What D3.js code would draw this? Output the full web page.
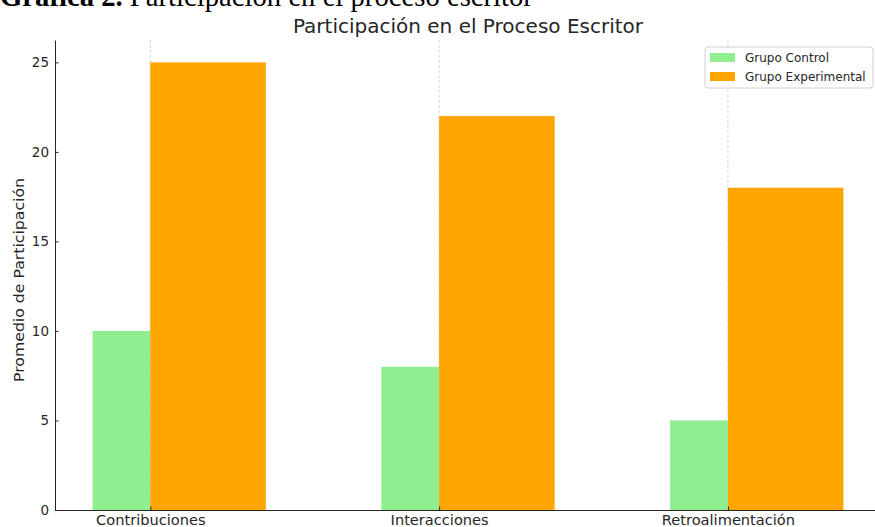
<!DOCTYPE html>
<html><head><meta charset="utf-8">
<script src="https://cdn.jsdelivr.net/npm/d3@7"></script>
<style>body{margin:0;background:#fff;overflow:hidden} svg text{font-family:"DejaVu Sans",sans-serif}</style>
</head><body>
<script>
const categories = ["Contribuciones", "Interacciones", "Retroalimentación"];
const controlValues = [10, 8, 5];
const experimentalValues = [25, 22, 18];
const seriesNames = ["Grupo Control", "Grupo Experimental"];
const seriesColors = ["#90EE90", "#FFA500"];
const yTicks = [0, 5, 10, 15, 20, 25];

(function () {
const W = 875, H = 527;
const svg = d3.select("body").append("svg").attr("width", W).attr("height", H);

const mLeft = 55, mRight = 881, mTop = 40, mBottom = 510;
const x = d3.scaleLinear().domain([-0.33, 2.53]).range([mLeft, mRight]);
const y = d3.scaleLinear().domain([0, 26.25]).range([mBottom, mTop]);

// heading above chart
svg.append("text").attr("x", 0).attr("y", 6)
  .style("font-family", "'Liberation Serif', 'Times New Roman', serif")
  .attr("font-size", 28.7).attr("fill", "#000")
  .call(t => { t.append("tspan").attr("font-weight", "bold").text("Gráfica 2. ");
               t.append("tspan").text("Participación en el proceso escritor"); });

// gridlines
svg.append("g").selectAll("line").data(categories).join("line")
  .attr("x1", (d, i) => x(i)).attr("x2", (d, i) => x(i))
  .attr("y1", mTop).attr("y2", mBottom)
  .attr("stroke", "#cccccc").attr("stroke-width", 0.8).attr("stroke-dasharray", "3,2");

// bars
svg.append("g").selectAll("rect").data(controlValues).join("rect")
  .attr("x", (d, i) => x(i - 0.2)).attr("width", x(0) - x(-0.2))
  .attr("y", d => y(d)).attr("height", d => y(0) - y(d)).attr("fill", seriesColors[0]);
svg.append("g").selectAll("rect").data(experimentalValues).join("rect")
  .attr("x", (d, i) => x(i)).attr("width", x(0.4) - x(0))
  .attr("y", d => y(d)).attr("height", d => y(0) - y(d)).attr("fill", seriesColors[1]);

// axes
const yAxis = d3.axisLeft(y).tickValues(yTicks).tickSizeInner(-3.5).tickSizeOuter(0).tickPadding(6);
const gy = svg.append("g").attr("transform", `translate(${mLeft},0)`).call(yAxis);
gy.select(".domain").attr("stroke", "#262626").attr("stroke-width", 1);
gy.selectAll(".tick line").attr("stroke", "#262626");
gy.selectAll("text").attr("font-size", 13.5).attr("fill", "#262626");

const xAxis = d3.axisBottom(x).tickValues([0, 1, 2]).tickFormat(i => categories[i])
  .tickSizeInner(-3.5).tickSizeOuter(0).tickPadding(5);
const gx = svg.append("g").attr("transform", `translate(0,${mBottom})`).call(xAxis);
gx.select(".domain").attr("stroke", "#262626").attr("stroke-width", 1);
gx.selectAll(".tick line").attr("stroke", "#262626");
gx.selectAll("text").attr("font-size", 14.6).attr("fill", "#262626");

// y label
svg.append("text").attr("transform", `translate(24,${(178 + 382) / 2}) rotate(-90)`)
  .attr("text-anchor", "middle").attr("font-size", 14).attr("fill", "#262626")
  .attr("textLength", 204).attr("lengthAdjust", "spacingAndGlyphs")
  .text("Promedio de Participación");

// title
svg.append("text").attr("x", (mLeft + mRight) / 2).attr("y", 33).attr("text-anchor", "middle")
  .attr("font-size", 20).attr("fill", "#262626").text("Participación en el Proceso Escritor");

// legend
const lg = svg.append("g");
lg.append("rect").attr("x", 705).attr("y", 47).attr("width", 168).attr("height", 41).attr("rx", 3)
  .attr("fill", "#fff").attr("fill-opacity", 0.8).attr("stroke", "#d0d0d0");
seriesNames.forEach((n, i) => {
  lg.append("rect").attr("x", 710).attr("y", 53 + i * 19).attr("width", 25).attr("height", 9).attr("fill", seriesColors[i]);
  lg.append("text").attr("x", 745).attr("y", 62 + i * 19).attr("font-size", 12).attr("fill", "#262626").text(n);
});
})();
</script>
</body></html>
